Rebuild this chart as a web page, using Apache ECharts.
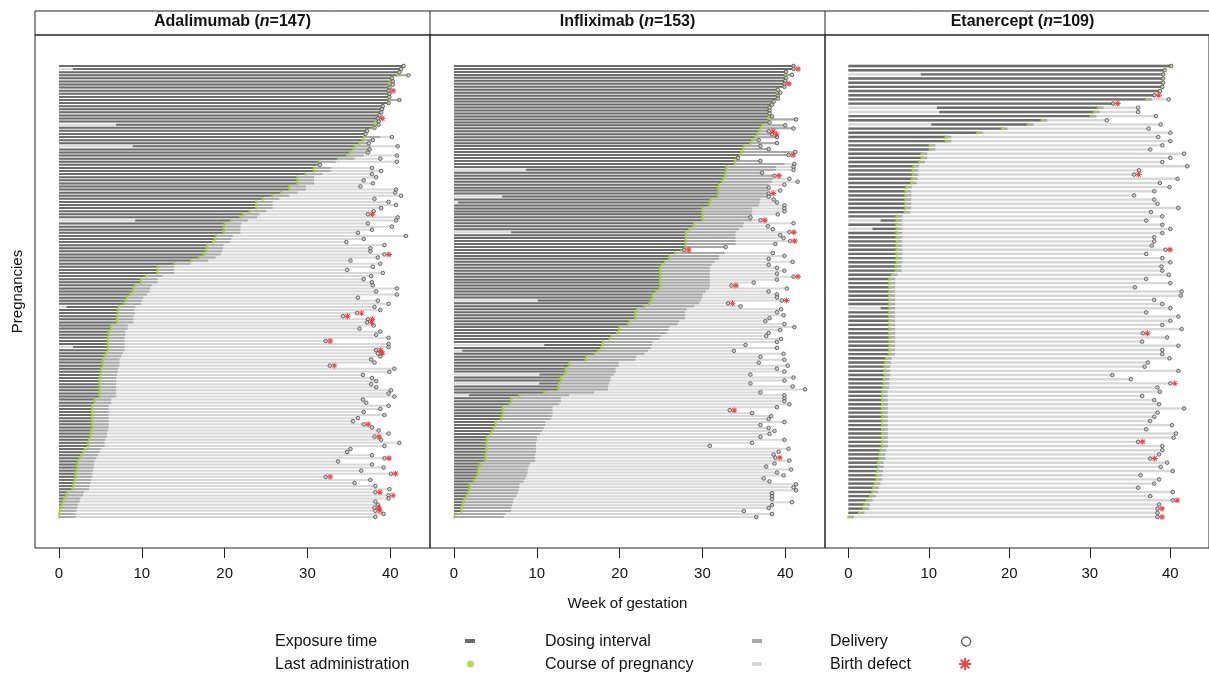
<!DOCTYPE html>
<html lang="en">
<head>
<meta charset="UTF-8">
<title>Anti-TNF exposure during pregnancy</title>
<style>
    html, body {
        margin: 0;
        padding: 0;
        width: 100%;
        height: 100%;
        background: #ffffff;
        overflow: hidden;
    }
    #container {
        width: 1209px;
        height: 674px;
    }
</style>
</head>
<body>
<div id="container"></div>
<script src="https://cdn.jsdelivr.net/npm/echarts@6/dist/echarts.min.js"></script>
<script>
    // panels and axis ticks
    var drugs = ['Adalimumab', 'Infliximab', 'Etanercept'];
    var drugN = [147, 153, 109];
    var tickWeeks = [0, 10, 20, 30, 40];

    // dosing interval (weeks)
    var adaInterval = 2, ifxInterval = 6, etaInterval = 0.7;

    // Adalimumab: last administration / delivery week per pregnancy (top row first)
    var adaLast = [
        41.5, 41.2, 41.0, 40.8, 40.1, 40.0, 39.9, 39.8, 39.8, 39.8,
        39.8, 39.8, 39.7, 39.0, 38.9, 38.8, 38.6, 38.5, 38.2, 38.1,
        37.8, 37.1, 36.9, 36.8, 36.7, 36.3, 35.7, 35.5, 35.1, 34.8,
        33.7, 31.4, 31.3, 30.8, 30.8, 29.8, 28.8, 28.8, 28.8, 27.8,
        27.8, 26.8, 25.8, 24.6, 23.8, 23.8, 23.8, 23.0, 22.2, 21.9,
        20.8, 20.0, 19.9, 19.9, 19.9, 19.0, 18.8, 18.6, 17.9, 17.8,
        17.7, 17.5, 16.9, 16.0, 13.9, 11.9, 11.9, 11.9, 10.5, 9.9,
        9.9, 9.2, 9.0, 8.9, 8.6, 8.2, 8.0, 7.9, 7.2, 7.1,
        7.1, 7.0, 7.0, 7.0, 6.3, 6.3, 6.0, 6.0, 5.9, 5.9,
        5.9, 5.9, 5.9, 5.7, 5.5, 5.3, 5.3, 5.3, 5.1, 5.1,
        5.0, 4.9, 4.9, 4.9, 4.9, 4.9, 4.9, 4.9, 4.3, 4.3,
        4.0, 4.0, 4.0, 4.0, 4.0, 4.0, 4.0, 4.0, 3.9, 3.8,
        3.8, 3.6, 3.5, 3.5, 3.1, 2.9, 2.7, 2.5, 2.3, 2.2,
        2.2, 2.1, 2.0, 2.0, 1.9, 1.8, 1.7, 1.6, 1.0, 0.9,
        0.6, 0.5, 0.3, 0.2, 0.1, 0.0, 0.0
    ];
    var adaDelivery = [
        41.6, 41.3, 41.1, 42.2, 40.2, 40.3, 40.3, 39.9, 39.8, 39.9,
        39.9, 41.1, 39.8, 39.1, 39.0, 38.9, 38.7, 38.5, 38.6, 38.6,
        38.1, 37.2, 37.0, 40.2, 37.9, 37.4, 40.9, 37.5, 37.3, 40.8,
        38.8, 40.8, 31.5, 37.8, 38.9, 37.8, 38.3, 36.8, 37.9, 36.4,
        40.7, 40.6, 41.3, 38.1, 39.8, 40.7, 38.9, 38.0, 37.3, 40.9,
        40.7, 37.3, 40.2, 37.8, 36.1, 41.9, 36.8, 34.7, 39.3, 37.6,
        37.6, 39.3, 38.5, 35.2, 38.8, 37.9, 34.8, 39.1, 37.7, 36.8,
        37.8, 37.9, 40.8, 38.3, 40.8, 36.1, 38.5, 39.8, 38.1, 38.8,
        36.0, 34.3, 37.3, 37.2, 38.0, 36.3, 38.8, 38.3, 39.8, 32.2,
        39.8, 39.8, 38.3, 38.5, 38.8, 37.7, 38.1, 32.7, 40.5, 39.9,
        36.7, 37.8, 38.3, 37.7, 38.3, 40.1, 39.8, 40.5, 36.7, 37.1,
        39.8, 38.8, 36.8, 39.3, 36.1, 35.5, 36.8, 37.8, 38.6, 39.8,
        38.1, 38.9, 41.1, 39.3, 35.2, 34.8, 37.8, 39.3, 33.7, 37.8,
        39.2, 36.5, 40.1, 32.2, 37.6, 35.7, 38.2, 39.9, 38.2, 39.8,
        39.8, 38.2, 38.5, 38.1, 38.2, 39.2, 38.2
    ];
    var adaDefect = [8, 17, 48, 61, 80, 81, 82, 83, 89, 92, 93, 97, 116, 120, 127, 132, 133, 138, 139, 143, 144];
    var adaStart = [[1, 1.7], [19, 6.9], [26, 8.9], [50, 9.2], [78, 0.9], [91, 1.7]];

    // Infliximab
    var ifxLast = [
        41.0, 41.0, 40.0, 40.0, 40.0, 39.9, 39.9, 39.8, 39.0, 39.0,
        39.0, 39.0, 38.5, 38.3, 38.0, 38.0, 38.0, 38.0, 38.0, 38.0,
        37.2, 37.0, 36.8, 36.6, 36.4, 36.0, 35.8, 35.0, 34.9, 34.7,
        34.5, 34.1, 33.9, 33.9, 32.9, 32.9, 32.8, 32.7, 32.5, 32.4,
        32.0, 31.9, 31.9, 31.9, 31.9, 31.0, 30.9, 30.8, 30.0, 30.0,
        30.0, 30.0, 30.0, 29.0, 28.9, 28.4, 28.0, 28.0, 28.0, 28.0,
        28.0, 27.9, 27.5, 26.7, 26.0, 26.0, 25.5, 25.1, 24.9, 24.9,
        24.9, 24.9, 24.9, 24.9, 24.9, 24.8, 24.4, 24.0, 24.0, 23.8,
        23.6, 23.0, 22.1, 21.9, 21.9, 21.9, 21.2, 21.0, 20.0, 19.9,
        19.7, 19.0, 18.8, 18.0, 17.9, 17.8, 17.4, 17.0, 16.0, 15.9,
        13.9, 13.9, 13.5, 13.5, 13.3, 12.9, 12.9, 12.7, 12.6, 12.6,
        10.9, 7.9, 6.9, 6.9, 6.7, 5.9, 5.9, 5.9, 5.8, 5.7,
        5.0, 5.0, 4.8, 4.6, 4.4, 4.0, 4.0, 3.9, 3.9, 3.9,
        3.9, 3.8, 3.8, 3.8, 3.2, 3.0, 2.9, 2.9, 2.8, 2.6,
        2.4, 1.9, 1.9, 1.8, 1.7, 1.5, 1.2, 1.1, 1.0, 0.9,
        0.9, 0.2, 0.0
    ];
    var ifxDelivery = [
        41.0, 41.0, 40.1, 40.8, 40.1, 40.0, 39.9, 39.9, 39.1, 39.4,
        39.1, 39.1, 38.6, 38.4, 38.1, 38.1, 38.1, 38.4, 41.3, 38.1,
        40.0, 41.0, 38.0, 38.4, 39.0, 36.8, 39.0, 37.0, 38.0, 41.2,
        40.4, 34.3, 37.0, 41.1, 41.0, 41.0, 37.2, 38.7, 40.5, 41.5,
        39.9, 38.0, 39.4, 38.0, 38.0, 38.6, 39.0, 39.9, 39.9, 39.9,
        39.1, 35.8, 37.0, 41.0, 37.9, 38.5, 40.5, 39.4, 39.8, 40.6,
        38.8, 32.8, 27.8, 38.5, 39.9, 38.0, 40.9, 38.0, 39.0, 39.9,
        39.0, 41.0, 39.0, 36.2, 33.5, 40.2, 38.0, 39.0, 39.0, 39.6,
        33.1, 34.6, 39.5, 39.0, 39.8, 38.1, 37.6, 39.9, 41.1, 39.4,
        38.0, 37.7, 39.5, 39.0, 35.2, 39.0, 33.8, 39.8, 37.0, 39.9,
        36.8, 40.3, 39.0, 39.9, 35.8, 41.0, 39.9, 35.8, 40.9, 42.4,
        37.0, 39.9, 39.9, 39.9, 40.5, 39.0, 33.3, 36.0, 38.3, 38.0,
        39.9, 37.0, 38.0, 38.7, 38.1, 37.0, 39.9, 36.0, 30.9, 40.4,
        39.2, 38.6, 38.8, 40.5, 38.7, 37.7, 40.7, 39.0, 39.8, 37.4,
        38.1, 41.3, 41.0, 41.3, 38.4, 38.4, 38.4, 40.8, 38.4, 38.0,
        35.0, 38.4, 36.5
    ];
    var ifxDefect = [1, 6, 22, 23, 30, 37, 43, 52, 56, 59, 62, 71, 74, 79, 80, 116, 132];
    var ifxStart = [[35, 8.7], [44, 5.8], [46, 0.5], [56, 6.9], [79, 10.1], [94, 10.9], [96, 1.0], [104, 10.3], [107, 10.3], [111, 1.8]];

    // Etanercept
    var etaLast = [
        40.0, 39.2, 39.0, 39.0, 39.0, 38.9, 38.6, 38.0, 37.0, 32.9,
        31.0, 30.5, 30.1, 24.0, 22.3, 19.1, 16.0, 12.1, 12.1, 10.1,
        10.1, 9.1, 9.1, 8.8, 8.1, 8.0, 8.0, 7.9, 7.8, 7.2,
        7.1, 7.1, 7.1, 7.1, 7.1, 7.0, 6.0, 6.0, 6.0, 6.0,
        6.0, 6.0, 6.0, 6.0, 6.0, 6.0, 6.0, 6.0, 5.9, 5.9,
        5.4, 5.1, 5.1, 5.1, 5.1, 5.1, 5.1, 5.1, 5.1, 5.1,
        5.1, 5.1, 5.1, 5.1, 5.1, 5.1, 5.1, 5.1, 5.1, 5.1,
        4.7, 4.6, 4.5, 4.5, 4.5, 4.4, 4.4, 4.35, 4.2, 4.2,
        4.2, 4.2, 4.2, 4.2, 4.2, 4.2, 4.2, 4.2, 4.2, 4.2,
        4.2, 4.2, 4.0, 3.9, 3.9, 3.7, 3.7, 3.6, 3.5, 3.5,
        3.3, 3.1, 3.0, 2.7, 2.3, 2.0, 1.9, 1.3, 0.0
    ];
    var etaDelivery = [
        40.1, 39.3, 39.1, 39.1, 39.1, 39.0, 38.7, 38.0, 39.8, 32.9,
        36.0, 36.0, 38.2, 32.1, 38.8, 37.3, 40.0, 38.5, 40.0, 39.0,
        37.5, 41.7, 40.0, 39.0, 42.1, 36.1, 35.5, 40.9, 38.7, 39.9,
        38.0, 35.5, 38.0, 38.4, 41.0, 37.6, 39.0, 37.0, 39.0, 40.0,
        39.0, 38.0, 38.0, 37.7, 39.4, 37.0, 39.0, 40.0, 38.9, 39.0,
        39.8, 37.0, 40.0, 35.6, 41.4, 41.3, 38.0, 39.0, 40.0, 37.0,
        41.0, 40.0, 39.0, 41.4, 36.6, 39.6, 36.5, 41.0, 39.0, 39.0,
        39.9, 37.2, 36.8, 41.0, 32.8, 35.1, 40.0, 38.4, 38.7, 36.5,
        38.0, 38.6, 41.7, 38.4, 38.0, 37.5, 40.2, 37.0, 40.7, 40.4,
        36.0, 39.0, 39.0, 38.6, 37.5, 39.6, 38.8, 40.3, 36.3, 38.6,
        38.0, 36.0, 40.3, 37.5, 40.3, 38.6, 38.4, 38.4, 38.4
    ];
    var etaDefect = [7, 9, 26, 44, 64, 76, 90, 94, 104, 106, 108];
    var etaStart = [[2, 9.0], [10, 11.0], [11, 11.3], [14, 10.3], [37, 4.0], [39, 3.0], [58, 4.0]];

    var panels = [
        {last: adaLast, delivery: adaDelivery, defect: adaDefect, start: adaStart, interval: adaInterval, bar: 2},
        {last: ifxLast, delivery: ifxDelivery, defect: ifxDefect, start: ifxStart, interval: ifxInterval, bar: 2},
        {last: etaLast, delivery: etaDelivery, defect: etaDefect, start: etaStart, interval: etaInterval, bar: 2.4}
    ];

    var font = 'Liberation Sans, Arial, sans-serif';
    var cExposure = '#6c6c6c', cDosing = '#a8a8a8', cCourse = '#d8d8d8';
    var cLast = '#a5d12f', cDefect = '#e8191b';
    var asterisk = 'path://M-1.6,-10H1.6V10H-1.6Z M-10,-1.6H10V1.6H-10Z M-8.2,-5.9L-5.9,-8.2L8.2,5.9L5.9,8.2Z M5.9,-8.2L8.2,-5.9L-5.9,8.2L-8.2,5.9Z';

    var panelLeft = 35, panelTop = 35, panelW = 395, panelH = 513;

    // horizontal segment drawn on row value(0) from value(1) to value(2)
    function segment(h, color) {
        return function (params, api) {
            var a = api.coord([api.value(1), api.value(0)]);
            var b = api.coord([api.value(2), api.value(0)]);
            if (b[0] <= a[0]) return null;
            return {
                type: 'rect',
                shape: {x: a[0], y: a[1] - h / 2, width: b[0] - a[0], height: h},
                style: {fill: color}
            };
        };
    }

    var grids = [], xAxes = [], yAxes = [], series = [], titles = [];

    panels.forEach(function (p, i) {
        var n = p.last.length;
        var pad = (n - 1) * 31 / 451;
        var starts = {};
        p.start.forEach(function (s) { starts[s[0]] = s[1]; });

        var course = [], dosing = [], exposure = [], last = [], delivery = [], defect = [];
        for (var k = 0; k < n; k++) {
            var la = p.last[k], dl = p.delivery[k];
            course.push([k, 0, dl]);
            dosing.push([k, la, Math.min(la + p.interval, dl)]);
            exposure.push([k, starts[k] || 0, la]);
            last.push([la, k]);
            delivery.push([dl, k]);
        }
        p.defect.forEach(function (k) { defect.push([p.delivery[k], k]); });

        grids.push({
            left: panelLeft + i * panelW, top: panelTop, width: panelW, height: panelH,
            show: true, borderColor: '#222', borderWidth: 1, backgroundColor: 'transparent'
        });
        xAxes.push({
            gridIndex: i, type: 'value', min: -2.9, max: 44.8, position: 'bottom',
            axisLine: {show: false, onZero: false},
            splitLine: {show: false},
            axisTick: {show: true, length: 10, lineStyle: {color: '#222'}, customValues: tickWeeks},
            axisLabel: {customValues: tickWeeks, fontSize: 15, color: '#111', margin: 18, fontFamily: font},
            name: i === 1 ? 'Week of gestation' : '',
            nameLocation: 'middle', nameGap: 48,
            nameTextStyle: {fontSize: 15, color: '#111', fontFamily: font}
        });
        yAxes.push({
            gridIndex: i, type: 'value', inverse: true, min: -pad, max: n - 1 + pad,
            axisLine: {show: false, onZero: false}, axisTick: {show: false}, axisLabel: {show: false},
            splitLine: {show: false},
            name: i === 0 ? 'Pregnancies' : '',
            nameLocation: 'middle', nameRotate: 90, nameGap: 10,
            nameTextStyle: {fontSize: 15, color: '#111', fontFamily: font}
        });
        titles.push({
            text: '{b|' + drugs[i] + ' (}{i|n}{b|=' + drugN[i] + ')}',
            left: panelLeft + i * panelW + panelW / 2, top: 14, textAlign: 'center', padding: 0,
            textStyle: {
                rich: {
                    b: {fontSize: 16, fontWeight: 'bold', color: '#111', fontFamily: font},
                    i: {fontSize: 16, fontWeight: 'bold', fontStyle: 'italic', color: '#111', fontFamily: font}
                }
            }
        });

        series.push(
            {name: 'Course of pregnancy', type: 'custom', xAxisIndex: i, yAxisIndex: i,
                itemStyle: {color: cCourse}, renderItem: segment(p.bar, cCourse),
                encode: {x: [1, 2], y: 0}, data: course},
            {name: 'Dosing interval', type: 'custom', xAxisIndex: i, yAxisIndex: i,
                itemStyle: {color: cDosing}, renderItem: segment(p.bar, cDosing),
                encode: {x: [1, 2], y: 0}, data: dosing},
            {name: 'Exposure time', type: 'custom', xAxisIndex: i, yAxisIndex: i,
                itemStyle: {color: cExposure}, renderItem: segment(p.bar, cExposure),
                encode: {x: [1, 2], y: 0}, data: exposure},
            {name: 'Last administration', type: 'scatter', xAxisIndex: i, yAxisIndex: i,
                symbol: 'rect', symbolSize: [2.4, 3.2], itemStyle: {color: cLast}, data: last},
            {name: 'Delivery', type: 'scatter', xAxisIndex: i, yAxisIndex: i,
                symbol: 'circle', symbolSize: 3.6,
                itemStyle: {color: '#c8c8c8', borderColor: '#4a4a4a', borderWidth: 1}, data: delivery},
            {name: 'Birth defect', type: 'scatter', xAxisIndex: i, yAxisIndex: i,
                symbol: asterisk, symbolSize: 6, symbolOffset: [4.5, 0],
                itemStyle: {color: cDefect}, data: defect}
        );
    });

    // each legend entry: a text-only legend and, at the key column, an icon-only legend
    var legendRows = [
        {name: 'Exposure time', textX: 270, iconX: 465, y: 634, icon: 'rect', w: 10, h: 4},
        {name: 'Last administration', textX: 270, iconX: 467, y: 657, icon: 'circle', w: 7, h: 7},
        {name: 'Dosing interval', textX: 540, iconX: 752, y: 634, icon: 'rect', w: 10, h: 4},
        {name: 'Course of pregnancy', textX: 540, iconX: 752, y: 657, icon: 'rect', w: 10, h: 4},
        {name: 'Delivery', textX: 825, iconX: 961, y: 634, icon: 'circle', w: 9, h: 9,
            style: {color: '#ffffff', borderColor: '#222', borderWidth: 1.2}},
        {name: 'Birth defect', textX: 825, iconX: 959, y: 657, icon: asterisk, w: 12, h: 12}
    ];
    var legends = [];
    legendRows.forEach(function (r) {
        legends.push({
            left: r.textX, top: r.y, selectedMode: false, padding: 0,
            itemWidth: 0, itemHeight: 0, icon: 'none',
            textStyle: {fontSize: 16, color: '#111', fontFamily: font},
            data: [{name: r.name, icon: 'none'}]
        });
        var item = {name: r.name, icon: r.icon};
        if (r.style) item.itemStyle = r.style;
        legends.push({
            left: r.iconX, top: r.y + 7 - r.h / 2, selectedMode: false, padding: 0,
            itemWidth: r.w, itemHeight: r.h,
            formatter: function () { return ''; },
            textStyle: {fontSize: 1},
            data: [item]
        });
    });

    var myChart = echarts.init(document.getElementById('container'));
    myChart.setOption({
        animation: false,
        backgroundColor: '#ffffff',
        title: titles,
        legend: legends,
        grid: grids,
        xAxis: xAxes,
        yAxis: yAxes,
        series: series,
        graphic: [
            {type: 'rect', shape: {x: 35, y: 11, width: 1185, height: 24}, z: 10,
                style: {fill: 'none', stroke: '#222', lineWidth: 1}},
            {type: 'line', shape: {x1: 430, y1: 11, x2: 430, y2: 35}, z: 10, style: {stroke: '#222', lineWidth: 1}},
            {type: 'line', shape: {x1: 825, y1: 11, x2: 825, y2: 35}, z: 10, style: {stroke: '#222', lineWidth: 1}}
        ]
    });
</script>
</body>
</html>
